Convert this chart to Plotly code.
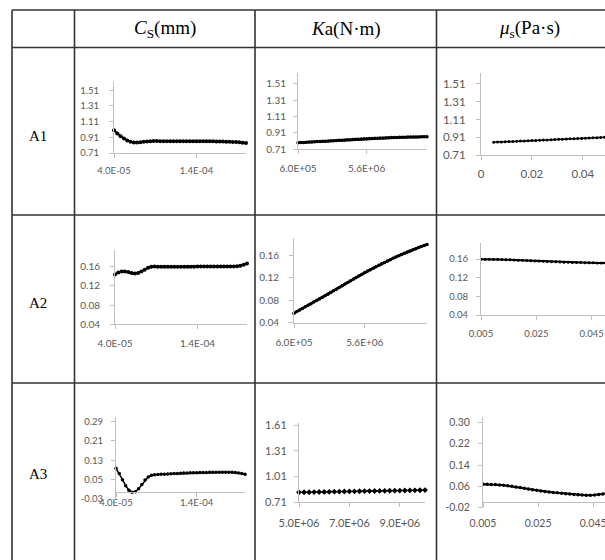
import plotly.graph_objects as go

# ---------------- data ----------------
cs_x = [4.0e-05, 4.4e-05, 4.8e-05, 5.2e-05, 5.6e-05, 6.0e-05, 6.4e-05, 6.8e-05, 7.2e-05, 7.6e-05,
        8.0e-05, 8.4e-05, 8.8e-05, 9.2e-05, 9.6e-05, 1.00e-04, 1.04e-04, 1.08e-04, 1.12e-04, 1.16e-04,
        1.20e-04, 1.24e-04, 1.28e-04, 1.32e-04, 1.36e-04, 1.40e-04, 1.44e-04, 1.48e-04, 1.52e-04, 1.56e-04,
        1.60e-04, 1.64e-04, 1.68e-04, 1.72e-04, 1.76e-04, 1.80e-04, 1.84e-04, 1.88e-04, 1.92e-04, 1.96e-04,
        2.00e-04]
a1_cs = [1.000, 0.960, 0.925, 0.895, 0.870, 0.853, 0.845, 0.843, 0.846, 0.852,
         0.857, 0.860, 0.862, 0.862, 0.861, 0.861, 0.860, 0.860, 0.860, 0.860,
         0.860, 0.860, 0.860, 0.860, 0.860, 0.860, 0.860, 0.860, 0.859, 0.859,
         0.859, 0.858, 0.857, 0.856, 0.855, 0.853, 0.851, 0.849, 0.846, 0.842,
         0.838]
a2_cs = [0.144, 0.148, 0.150, 0.150, 0.149, 0.147, 0.146, 0.147, 0.150, 0.154,
         0.158, 0.160, 0.1605, 0.160, 0.160, 0.160, 0.160, 0.160, 0.160, 0.160,
         0.160, 0.160, 0.160, 0.160, 0.160, 0.1605, 0.1605, 0.1605, 0.1605, 0.1605,
         0.1605, 0.1605, 0.1605, 0.1605, 0.1605, 0.1605, 0.1605, 0.161, 0.162, 0.164,
         0.167]
a3_cs = [0.097, 0.075, 0.050, 0.025, 0.006, -0.002, 0.000, 0.012, 0.030, 0.048,
         0.061, 0.068, 0.070, 0.071, 0.072, 0.0725, 0.073, 0.074, 0.075, 0.075,
         0.076, 0.077, 0.077, 0.078, 0.078, 0.078, 0.079, 0.079, 0.079, 0.080,
         0.080, 0.080, 0.081, 0.081, 0.081, 0.080, 0.080, 0.079, 0.077, 0.075,
         0.072]

ka_x = [6.0e5, 8.0e5, 1.0e6, 1.2e6, 1.4e6, 1.6e6, 1.8e6, 2.0e6, 2.2e6, 2.4e6,
        2.6e6, 2.8e6, 3.0e6, 3.2e6, 3.4e6, 3.6e6, 3.8e6, 4.0e6, 4.2e6, 4.4e6,
        4.6e6, 4.8e6, 5.0e6, 5.2e6, 5.4e6, 5.6e6, 5.8e6, 6.0e6, 6.2e6, 6.4e6,
        6.6e6, 6.8e6, 7.0e6, 7.2e6, 7.4e6, 7.6e6, 7.8e6, 8.0e6, 8.2e6, 8.4e6,
        8.6e6, 8.8e6, 9.0e6, 9.2e6, 9.4e6, 9.6e6, 9.8e6, 1.0e7]
a1_ka = [0.790, 0.792, 0.794, 0.796, 0.798, 0.800, 0.802, 0.804, 0.806, 0.808,
         0.810, 0.812, 0.814, 0.816, 0.818, 0.820, 0.822, 0.824, 0.826, 0.828,
         0.830, 0.832, 0.834, 0.836, 0.838, 0.840, 0.842, 0.843, 0.845, 0.846,
         0.848, 0.849, 0.851, 0.852, 0.853, 0.854, 0.855, 0.856, 0.857, 0.858,
         0.859, 0.860, 0.861, 0.861, 0.862, 0.863, 0.863, 0.864]
a2_ka = [0.0570, 0.0598, 0.0626, 0.0654, 0.0682, 0.0710, 0.0738, 0.0766, 0.0794, 0.0822,
         0.0850, 0.0878, 0.0906, 0.0936, 0.0966, 0.0996, 0.1026, 0.1056, 0.1086, 0.1116,
         0.1146, 0.1176, 0.1205, 0.1234, 0.1262, 0.1290, 0.1317, 0.1343, 0.1369, 0.1395,
         0.1421, 0.1446, 0.1471, 0.1496, 0.1520, 0.1544, 0.1567, 0.1590, 0.1612, 0.1634,
         0.1655, 0.1676, 0.1696, 0.1716, 0.1735, 0.1754, 0.1772, 0.1790]

ka3_x = [5.0e6, 5.2e6, 5.4e6, 5.6e6, 5.8e6, 6.0e6, 6.2e6, 6.4e6, 6.6e6, 6.8e6,
         7.0e6, 7.2e6, 7.4e6, 7.6e6, 7.8e6, 8.0e6, 8.2e6, 8.4e6, 8.6e6, 8.8e6,
         9.0e6, 9.2e6, 9.4e6, 9.6e6, 9.8e6, 1.0e7]
a3_ka = [0.826, 0.827, 0.828, 0.829, 0.830, 0.831, 0.832, 0.834, 0.835, 0.836,
         0.837, 0.838, 0.839, 0.840, 0.841, 0.842, 0.843, 0.844, 0.845, 0.846,
         0.847, 0.848, 0.849, 0.850, 0.851, 0.853]

mu_x = [0.005, 0.0065, 0.008, 0.0095, 0.011, 0.0125, 0.014, 0.0155, 0.017, 0.0185,
        0.020, 0.0215, 0.023, 0.0245, 0.026, 0.0275, 0.029, 0.0305, 0.032, 0.0335,
        0.035, 0.0365, 0.038, 0.0395, 0.041, 0.0425, 0.044, 0.0455, 0.047, 0.0485,
        0.050]
a1_mu = [0.853, 0.855, 0.857, 0.859, 0.861, 0.863, 0.865, 0.867, 0.868, 0.870,
         0.872, 0.874, 0.876, 0.878, 0.880, 0.882, 0.884, 0.886, 0.888, 0.890,
         0.892, 0.894, 0.896, 0.897, 0.899, 0.901, 0.903, 0.905, 0.907, 0.909,
         0.911]
a2_mu = [0.1600, 0.1600, 0.1599, 0.1597, 0.1595, 0.1592, 0.1589, 0.1586, 0.1582, 0.1578,
         0.1574, 0.1570, 0.1566, 0.1562, 0.1558, 0.1554, 0.1550, 0.1546, 0.1542, 0.1538,
         0.1535, 0.1532, 0.1529, 0.1527, 0.1525, 0.1523, 0.1521, 0.1520, 0.1519, 0.1518,
         0.1518]
a3_mu = [0.0675, 0.0676, 0.0673, 0.0666, 0.0655, 0.0640, 0.0622, 0.0601, 0.0578, 0.0554,
         0.0529, 0.0503, 0.0477, 0.0452, 0.0430, 0.0410, 0.0391, 0.0373, 0.0356, 0.0340,
         0.0325, 0.0311, 0.0298, 0.0287, 0.0278, 0.0266, 0.0262, 0.0272, 0.0290, 0.0315,
         0.0345]

cs_ticks = [4.0e-05, 1.4e-04]
cs_tick_text = ["4.0E-05", "1.4E-04"]
ka_ticks = [6.0e5, 5.6e6]
ka_tick_text = ["6.0E+05", "5.6E+06"]
ka3_ticks = [5.0e6, 7.0e6, 9.0e6]
ka3_tick_text = ["5.0E+06", "7.0E+06", "9.0E+06"]
mu1_ticks = [0, 0.02, 0.04]
mu1_tick_text = ["0", "0.02", "0.04"]
mu_ticks = [0.005, 0.025, 0.045]
mu_tick_text = ["0.005", "0.025", "0.045"]
y_a1 = [0.71, 0.91, 1.11, 1.31, 1.51]
y_a1_text = ["0.71", "0.91", "1.11", "1.31", "1.51"]
y_a2 = [0.04, 0.08, 0.12, 0.16]
y_a2_text = ["0.04", "0.08", "0.12", "0.16"]
y_a3cs = [-0.03, 0.05, 0.13, 0.21, 0.29]
y_a3cs_text = ["-0.03", "0.05", "0.13", "0.21", "0.29"]
y_a3ka = [0.71, 1.01, 1.31, 1.61]
y_a3ka_text = ["0.71", "1.01", "1.31", "1.61"]
y_a3mu = [-0.02, 0.06, 0.14, 0.22, 0.30]
y_a3mu_text = ["-0.02", "0.06", "0.14", "0.22", "0.30"]

col_titles = ["<i>C</i><sub>S</sub>(mm)", "<i>K</i>a(N·m)", "<i>μ</i><sub>s</sub>(Pa·s)"]
row_titles = ["A1", "A2", "A3"]

# ---------------- layout helpers ----------------
W, H = 605, 560
def fx(p):
    return p / W
def fy(p):
    return 1 - p / H

AX = "#bfbfbf"
TXT = "#595959"

cells = [
    dict(x=cs_x, y=a1_cs, xd=(114, 246), yd=(81.7, 153), xr=[4e-5, 2e-4], yr=[0.71, 1.62],
         xt=cs_ticks, xtt=cs_tick_text, yt=y_a1, ytt=y_a1_text, fs=9.5, ms=4, lw=2, sym="circle", xso=5, yso=8, clip=False),
    dict(x=ka_x, y=a1_ka, xd=(298, 427), yd=(73.3, 149.3), xr=[6e5, 1.0e7], yr=[0.71, 1.64],
         xt=ka_ticks, xtt=ka_tick_text, yt=y_a1, ytt=y_a1_text, fs=10, ms=3.5, lw=2.5, sym="circle", xso=6, yso=5, clip=False),
    dict(x=mu_x, y=a1_mu, xd=(481, 605), yd=(73.3, 155), xr=[0, 0.0487], yr=[0.71, 1.63],
         xt=mu1_ticks, xtt=mu1_tick_text, yt=y_a1, ytt=y_a1_text, fs=11.5, ms=3, lw=1.5, sym="circle", xso=4, yso=8, clip=True),
    dict(x=cs_x, y=a2_cs, xd=(115, 247), yd=(250, 324.3), xr=[4e-5, 2e-4], yr=[0.04, 0.195],
         xt=cs_ticks, xtt=cs_tick_text, yt=y_a2, ytt=y_a2_text, fs=10, ms=4, lw=2, sym="circle", xso=6, yso=8, clip=False),
    dict(x=ka_x, y=a2_ka, xd=(294, 427), yd=(238.3, 322.7), xr=[6e5, 1.0e7], yr=[0.04, 0.19],
         xt=ka_ticks, xtt=ka_tick_text, yt=y_a2, ytt=y_a2_text, fs=10, ms=3.5, lw=2.5, sym="circle", xso=6, yso=8, clip=False),
    dict(x=mu_x, y=a2_mu, xd=(481, 605), yd=(243.3, 315), xr=[0.005, 0.0498], yr=[0.04, 0.194],
         xt=mu_ticks, xtt=mu_tick_text, yt=y_a2, ytt=y_a2_text, fs=9.5, ms=3, lw=2, sym="circle", xso=6, yso=6, clip=True),
    dict(x=cs_x, y=a3_cs, xd=(116, 245), yd=(416.7, 499), xr=[4e-5, 2e-4], yr=[-0.03, 0.31],
         xt=cs_ticks, xtt=cs_tick_text, yt=y_a3cs, ytt=y_a3cs_text, fs=9.5, ms=3.5, lw=1.5, sym="circle", xso=-2, yso=6, free=True, clip=False),
    dict(x=ka3_x, y=a3_ka, xd=(299, 425), yd=(422.7, 502.3), xr=[5e6, 1.0e7], yr=[0.71, 1.64],
         xt=ka3_ticks, xtt=ka3_tick_text, yt=y_a3ka, ytt=y_a3ka_text, fs=11, ms=4.5, lw=1, sym="diamond", xso=6, yso=5, clip=False),
    dict(x=mu_x, y=a3_mu, xd=(483, 605), yd=(416.7, 507.7), xr=[0.005, 0.0493], yr=[-0.02, 0.321],
         xt=mu_ticks, xtt=mu_tick_text, yt=y_a3mu, ytt=y_a3mu_text, fs=10.5, ms=3.5, lw=2, sym="circle", xso=7, yso=6, free=True, clip=True),
]

fig = go.Figure()
layout = dict(
    width=W, height=H, margin=dict(l=0, r=0, t=0, b=0, autoexpand=False),
    paper_bgcolor="white", plot_bgcolor="white", showlegend=False,
)

for i, c in enumerate(cells, start=1):
    sfx = "" if i == 1 else str(i)
    fig.add_trace(go.Scatter(
        x=c["x"], y=c["y"], xaxis="x" + sfx, yaxis="y" + sfx,
        mode="lines+markers",
        line=dict(color="black", width=c["lw"]),
        marker=dict(color="black", size=c["ms"], symbol=c["sym"]),
        cliponaxis=c["clip"], hoverinfo="skip",
    ))
    ytop, ybot = c["yd"]
    xa = dict(
        domain=[fx(c["xd"][0]), fx(c["xd"][1])], range=c["xr"],
        tickvals=c["xt"], ticktext=c["xtt"], showgrid=False, zeroline=False,
        showline=True, linecolor=AX, linewidth=1, ticks="outside", ticklen=4, tickcolor=AX,
        tickfont=dict(family="Lato", size=c["fs"], color=TXT), ticklabelstandoff=c["xso"],
        ticklabeloverflow="allow",
        anchor="y" + sfx, automargin=False,
    )
    if c.get("free"):
        r0, r1 = c["yr"]
        zero_px = ybot - (0 - r0) / (r1 - r0) * (ybot - ytop)
        xa["anchor"] = "free"
        xa["position"] = fy(zero_px)
    ya = dict(
        domain=[fy(ybot), fy(ytop)], range=c["yr"],
        tickvals=c["yt"], ticktext=c["ytt"], showgrid=False, zeroline=False,
        showline=True, linecolor=AX, linewidth=1, ticks="outside", ticklen=4, tickcolor=AX,
        tickfont=dict(family="Lato", size=c["fs"], color=TXT), ticklabelstandoff=c["yso"],
        ticklabeloverflow="allow",
        anchor="x" + sfx, automargin=False,
    )
    layout["xaxis" + sfx] = xa
    layout["yaxis" + sfx] = ya

# table grid lines
LINE = dict(color="#333333", width=1.6)
shapes = []
for xv in [12, 74.5, 255, 436.5]:
    shapes.append(dict(type="line", xref="paper", yref="paper",
                       x0=fx(xv), x1=fx(xv), y0=fy(10), y1=fy(560), line=LINE))
for yv in [10, 47.5, 215, 383]:
    shapes.append(dict(type="line", xref="paper", yref="paper",
                       x0=fx(12), x1=fx(605), y0=fy(yv), y1=fy(yv), line=LINE))
layout["shapes"] = shapes

annotations = []
for t, xc in zip(col_titles, [165, 346, 529]):
    annotations.append(dict(text=t, x=fx(xc), y=fy(29), xref="paper", yref="paper",
                            showarrow=False, xanchor="center", yanchor="middle",
                            font=dict(family="Liberation Serif", size=19, color="black")))
for t, yc in zip(row_titles, [136, 303, 474]):
    annotations.append(dict(text=t, x=fx(38), y=fy(yc), xref="paper", yref="paper",
                            showarrow=False, xanchor="center", yanchor="middle",
                            font=dict(family="Liberation Serif", size=15, color="black")))
layout["annotations"] = annotations

fig.update_layout(**layout)
fig.write_html("out.html")
